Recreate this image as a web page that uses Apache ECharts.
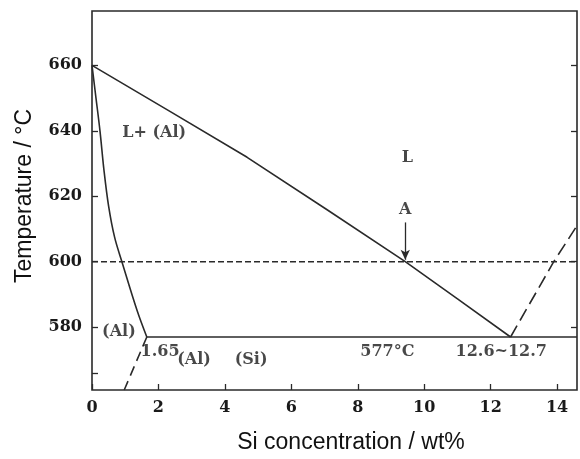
<!DOCTYPE html>
<html>
<head>
<meta charset="utf-8">
<script src="https://cdn.jsdelivr.net/npm/echarts@6/dist/echarts.min.js"></script>
<style>
html,body{margin:0;padding:0;background:#fff;}
#chart{width:580px;height:459px;}
</style>
</head>
<body>
<div id="chart"></div>
<script>
// ---- tick labels ----
const xTickValues = [0, 2, 4, 6, 8, 10, 12, 14];
const yTickValues = [580, 600, 620, 640, 660];
const yLeftTickMarks = [566, 580, 600, 620, 640, 660];

// ---- phase boundary lines (Si wt%, °C) ----
const liquidusAl = [[0, 660], [4.67, 631.9], [9.43, 600], [12.6, 577]];
const solidusAl = [[0, 660], [0.12, 650], [0.24, 640], [0.36, 628], [0.5, 617], [0.68, 607.5], [0.9, 600], [1.36, 585], [1.65, 577]];
const solvusAl = [[1.65, 577], [0.97, 560.8]];
const eutecticLine = [[1.65, 577], [14.6, 577]];
const isotherm600 = [[0, 600], [14.6, 600]];
const liquidusSi = [[12.6, 577], [13.9, 600], [14.6, 611]];
const arrowA = [[9.43, 612], [9.43, 600.6]];

// ---- region / point annotations ----
const annoText = ['L+ (Al)', 'L', 'A', '(Al)', '1.65', '(Al)', '(Si)', '577°C', '12.6~12.7'];
const annoX = [1.87, 9.49, 9.43, 0.81, 2.05, 3.07, 4.79, 8.89, 12.32];
const annoY = [639.5, 631.6, 615.7, 578.5, 572.4, 569.9, 569.9, 572.4, 572.4];

const ink = '#2a2a2a';
const serif = '"DejaVu Serif", "Liberation Serif", serif';
const sans = '"Liberation Sans", Arial, sans-serif';

function lineSeries(data, type, smooth) {
  return {
    type: 'line', data: data, symbol: 'none', smooth: smooth || false,
    lineStyle: { color: ink, width: 1.6, type: type || 'solid' },
    silent: true, animation: false, z: 3
  };
}

const chart = echarts.init(document.getElementById('chart'), null, { renderer: 'canvas' });
chart.setOption({
  backgroundColor: '#ffffff',
  animation: false,
  grid: { left: 92, right: 3, top: 11, bottom: 69, show: true, borderColor: ink, borderWidth: 1.6, backgroundColor: 'transparent' },
  xAxis: [{
    type: 'value', min: 0, max: 14.6,
    axisLine: { show: false },
    splitLine: { show: false },
    axisTick: { show: true, inside: true, length: 6, lineStyle: { color: ink, width: 1.3 }, customValues: xTickValues },
    axisLabel: { show: true, margin: 10, color: '#1a1a1a', fontFamily: serif, fontWeight: 'bold', fontSize: 16, customValues: xTickValues }
  }],
  yAxis: [{
    type: 'value', min: 560.8, max: 676.6, position: 'left',
    axisLine: { show: false },
    splitLine: { show: false },
    axisTick: { show: true, inside: true, length: 6, lineStyle: { color: ink, width: 1.3 }, customValues: yLeftTickMarks },
    axisLabel: { show: true, margin: 10, color: '#1a1a1a', fontFamily: serif, fontWeight: 'bold', fontSize: 16, customValues: yTickValues }
  }, {
    type: 'value', min: 560.8, max: 676.6, position: 'right',
    axisLine: { show: false },
    splitLine: { show: false },
    axisTick: { show: true, inside: true, length: 6, lineStyle: { color: ink, width: 1.3 }, customValues: yTickValues },
    axisLabel: { show: false }
  }],
  series: [
    lineSeries(liquidusAl, 'solid', 0.1),
    lineSeries(solidusAl, 'solid', 0.35),
    lineSeries(solvusAl, [10, 6]),
    lineSeries(eutecticLine, 'solid'),
    lineSeries(isotherm600, [6, 3]),
    lineSeries(liquidusSi, [13, 6]),
    {
      type: 'line', data: [], symbol: 'none', silent: true,
      markLine: {
        silent: true, animation: false,
        symbol: ['none', 'arrow'], symbolSize: [7, 10],
        lineStyle: { color: ink, width: 1.3, type: 'solid' },
        label: { show: false },
        data: [[{ coord: arrowA[0] }, { coord: arrowA[1] }]]
      }
    },
    {
      type: 'scatter', symbolSize: 0, silent: true, z: 5,
      data: annoText.map((t, i) => ({ value: [annoX[i], annoY[i]], name: t })),
      label: {
        show: true, position: 'inside', formatter: p => p.name,
        color: '#1a1a1a', fontFamily: serif, fontWeight: 'bold', fontSize: 16
      }
    }
  ],
  graphic: [
    { type: 'text', x: 351, y: 443,
      style: { text: 'Si concentration / wt%', fill: '#111', font: '23px ' + sans, textAlign: 'center', textVerticalAlign: 'middle' } },
    { type: 'text', x: 25, y: 196, rotation: Math.PI / 2,
      style: { text: 'Temperature / °C', fill: '#111', font: '23px ' + sans, textAlign: 'center', textVerticalAlign: 'middle' } }
  ]
});
</script>
</body>
</html>
